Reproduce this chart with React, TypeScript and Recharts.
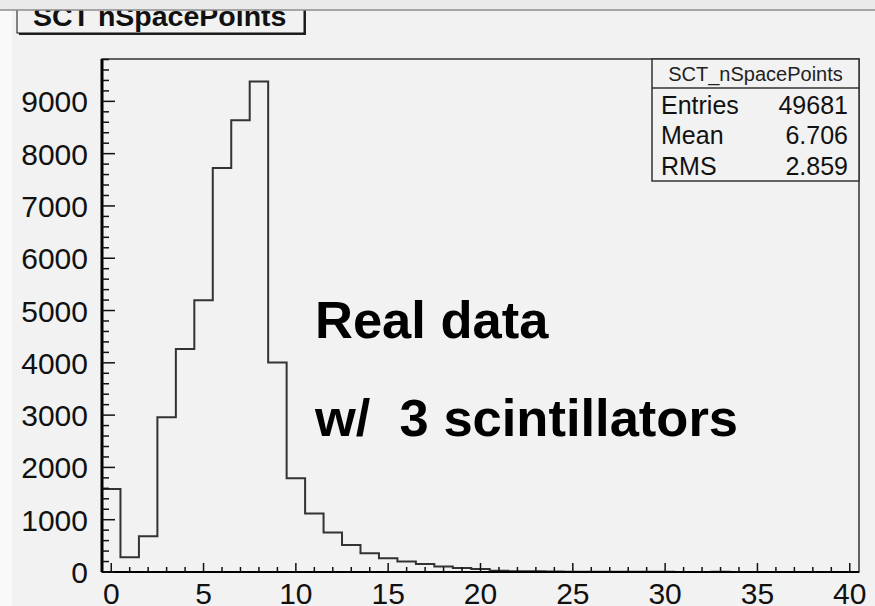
import React from 'react';
import { ComposedChart, Line, XAxis, YAxis, ReferenceArea } from 'recharts';

// bin centres (width 1, edges at n - 0.5) and the entries in each bin
const binCenters = [
  0, 1, 2, 3, 4, 5, 6, 7, 8, 9, 10, 11, 12, 13, 14, 15, 16, 17, 18, 19, 20,
  21, 22, 23, 24, 25, 26, 27, 28, 29, 30, 31, 32, 33, 34, 35, 36, 37, 38, 39, 40,
];
const binCounts = [
  1589, 281, 683, 2958, 4266, 5195, 7727, 8637, 9382, 4004, 1792, 1117, 753, 518, 357, 262, 199, 155, 103, 78, 56,
  22, 16, 12, 9, 7, 5, 4, 3, 3, 7, 2, 2, 6, 1, 2, 1, 1, 0, 1, 0,
];

const xMajorLabels = [0, 5, 10, 15, 20, 25, 30, 35, 40];
const yMajorLabels = [0, 1000, 2000, 3000, 4000, 5000, 6000, 7000, 8000, 9000];

const statsTitle = 'SCT_nSpacePoints';
const statsRows = [
  { name: 'Entries', value: '49681' },
  { name: 'Mean', value: '6.706' },
  { name: 'RMS', value: '2.859' },
];

const X_MIN = -0.5;
const X_MAX = 40.5;
const Y_MAX = 9810;
const FONT = '"Liberation Sans", Arial, Helvetica, sans-serif';

// step outline: one point per lower bin edge, closed at both ends
const histPoints = [
  { edge: X_MIN, count: 0 },
  ...binCounts.map((c, i) => ({ edge: binCenters[i] - 0.5, count: c })),
  { edge: X_MAX, count: binCounts[binCounts.length - 1] },
  { edge: X_MAX, count: 0 },
];

const xTicks: number[] = [];
for (let v = 0; v <= 40; v++) xTicks.push(v);
const yTicks: number[] = [];
for (let v = 0; v <= 9800; v += 200) yTicks.push(v);

function XTick(props: any) {
  const { x, y, payload } = props;
  const major = xMajorLabels.includes(payload.value);
  return (
    <g>
      <line x1={x} x2={x} y1={y} y2={y - (major ? 9 : 5)} stroke="#111" strokeWidth={1.5} />
      {major && (
        <text x={x} y={y + 32} textAnchor="middle" fontFamily={FONT} fontSize={30} fill="#111">
          {payload.value}
        </text>
      )}
    </g>
  );
}

function YTick(props: any) {
  const { x, y, payload } = props;
  const major = yMajorLabels.includes(payload.value);
  return (
    <g>
      <line x1={x} x2={x + (major ? 13 : 7)} y1={y} y2={y} stroke="#111" strokeWidth={1.5} />
      {major && (
        <text x={x - 14} y={y + 11} textAnchor="end" fontFamily={FONT} fontSize={30} fill="#111">
          {payload.value}
        </text>
      )}
    </g>
  );
}

export default function App() {
  return (
    <div
      style={{
        position: 'absolute',
        left: 0,
        top: 0,
        width: 875,
        height: 606,
        background: '#f2f2f2',
        overflow: 'hidden',
      }}
    >
      <div style={{ position: 'absolute', left: 0, top: 0, width: 12, height: 606, background: '#f9f9f9' }} />
      <ComposedChart
        width={875}
        height={606}
        data={histPoints}
        margin={{ top: 59, right: 16, left: 12, bottom: 0 }}
        style={{ position: 'absolute', left: 0, top: 0 }}
      >
        <XAxis
          type="number"
          dataKey="edge"
          domain={[X_MIN, X_MAX]}
          ticks={xTicks}
          interval={0}
          height={34}
          tickSize={0}
          tickMargin={0}
          tickLine={false}
          tick={<XTick />}
          axisLine={{ stroke: '#000', strokeWidth: 2 }}
          allowDataOverflow
        />
        <YAxis
          type="number"
          domain={[0, Y_MAX]}
          ticks={yTicks}
          interval={0}
          width={90}
          tickSize={0}
          tickMargin={0}
          tickLine={false}
          tick={<YTick />}
          axisLine={{ stroke: '#000', strokeWidth: 3 }}
          allowDataOverflow
        />
        <ReferenceArea x1={X_MIN} x2={X_MAX} y1={0} y2={Y_MAX} fill="none" stroke="#333" strokeWidth={1.5} />
        <Line
          type="stepAfter"
          dataKey="count"
          stroke="#333"
          strokeWidth={2}
          dot={false}
          activeDot={false}
          isAnimationActive={false}
        />
      </ComposedChart>

      <svg
        width={875}
        height={606}
        style={{ position: 'absolute', left: 0, top: 0, pointerEvents: 'none' }}
        fontFamily={FONT}
      >
        {/* title box, partly hidden under the top bar */}
        <rect x={19} y={2} width={287} height={33} fill="#222" />
        <rect x={17} y={0} width={287} height={33} fill="#f2f2f2" stroke="#111" strokeWidth={1} />
        <text x={33} y={26} fontSize={28.5} fontWeight="bold" fill="#111">
          SCT nSpacePoints
        </text>
        <rect x={0} y={0} width={875} height={10} fill="#eaeaea" />
        <line x1={0} x2={875} y1={10} y2={10} stroke="#8c8c8c" strokeWidth={1.5} />

        {/* statistics box */}
        <rect x={652} y={59} width={207} height={122} fill="#f2f2f2" stroke="#333" strokeWidth={1.5} />
        <line x1={652} x2={859} y1={88} y2={88} stroke="#333" strokeWidth={1.5} />
        <text x={755.5} y={81} textAnchor="middle" fontSize={20} fill="#222">
          {statsTitle}
        </text>
        {statsRows.map((r, i) => (
          <g key={r.name}>
            <text x={661} y={113.5 + i * 30.5} fontSize={25} fill="#111">
              {r.name}
            </text>
            <text x={848} y={113.5 + i * 30.5} textAnchor="end" fontSize={25} fill="#111">
              {r.value}
            </text>
          </g>
        ))}

        <text x={315} y={338} fontSize={52.5} fontWeight="bold" fill="#000">
          Real data
        </text>
        <text x={315} y={436} fontSize={52.5} fontWeight="bold" fill="#000" style={{ whiteSpace: 'pre' }}>
          {'w/  3 scintillators'}
        </text>
      </svg>
    </div>
  );
}
